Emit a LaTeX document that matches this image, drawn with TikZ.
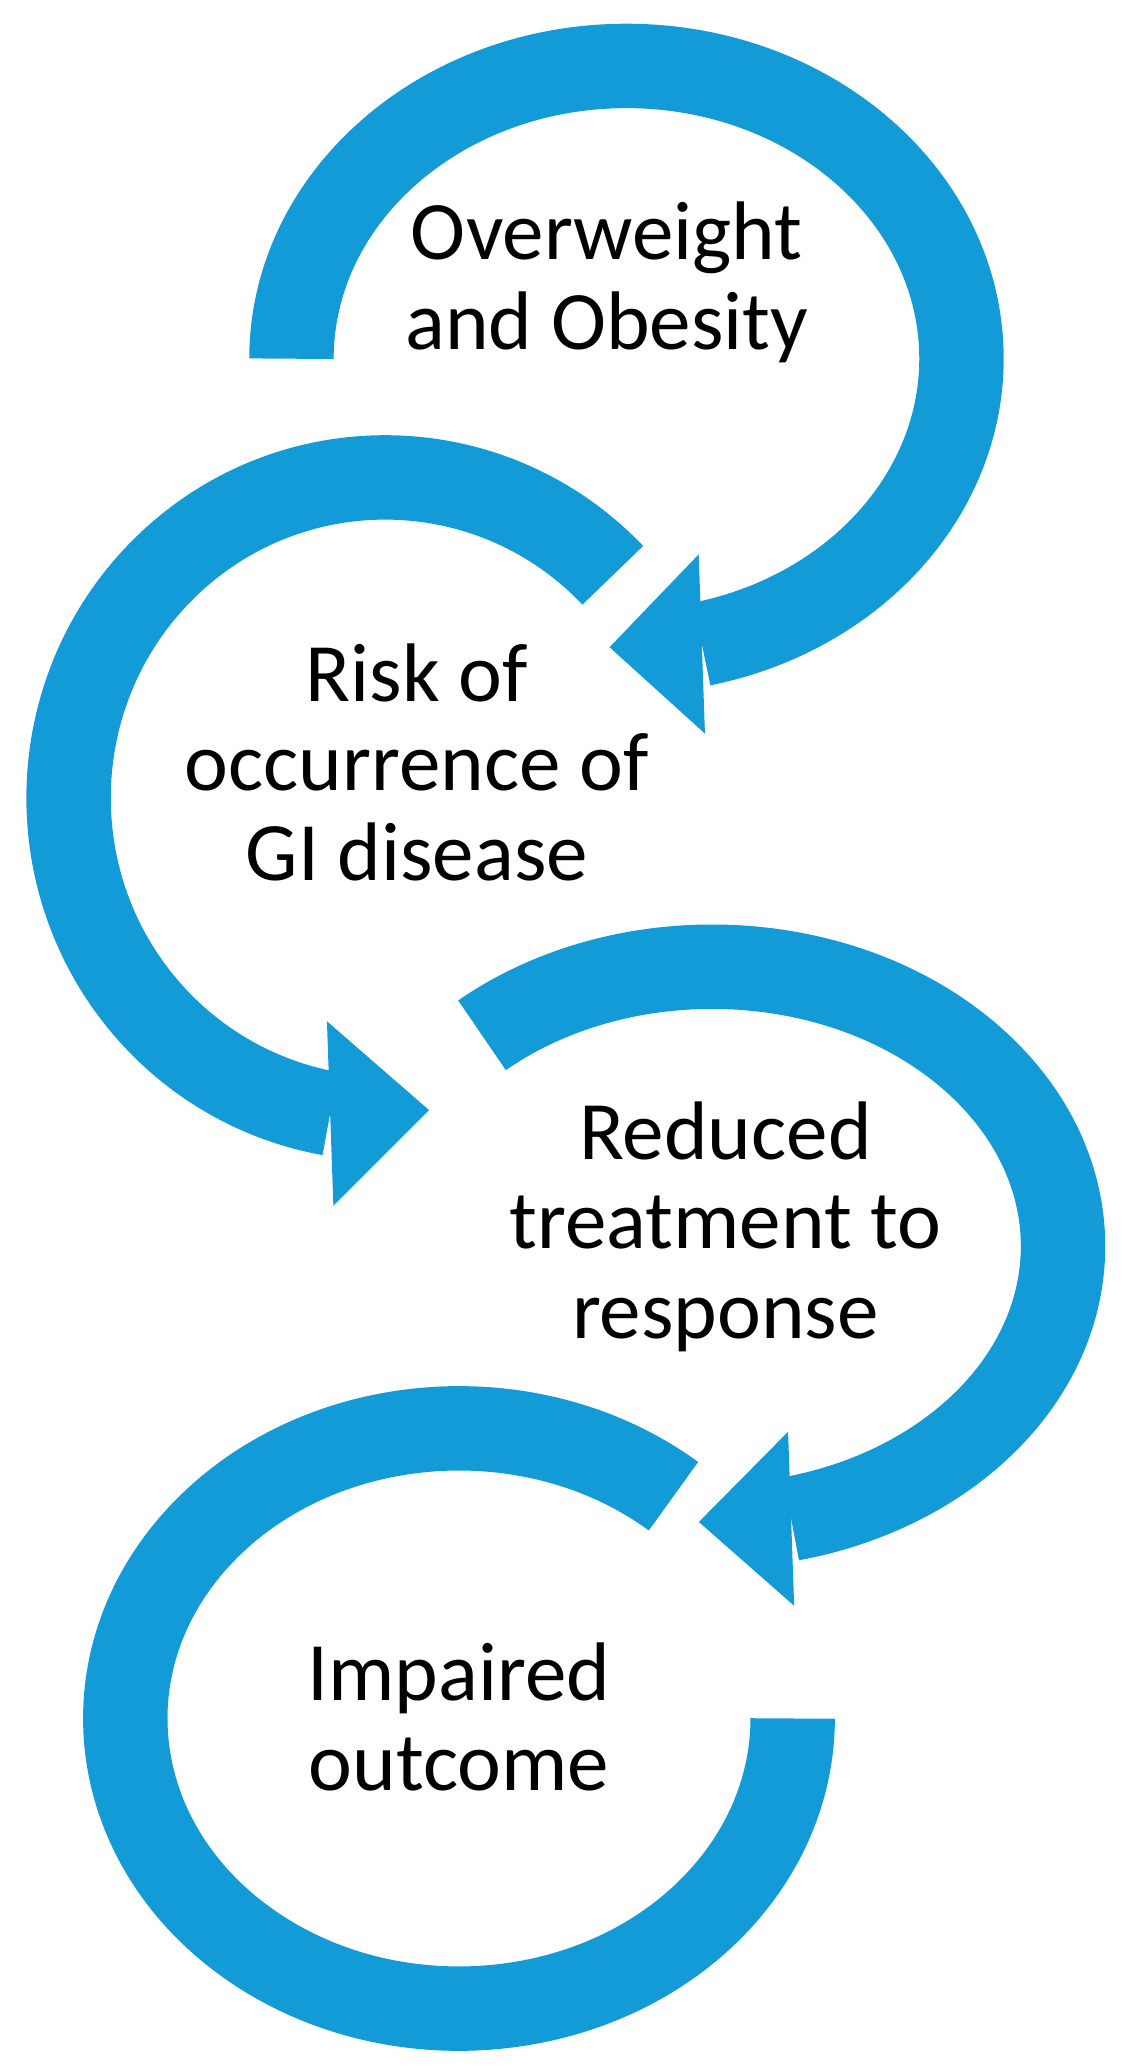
\documentclass[tikz,border=0pt]{standalone}
\usepackage{fontspec}
\setmainfont{Carlito}
\definecolor{cblue}{HTML}{129BD7}
\begin{document}
\begin{tikzpicture}[x=1pt,y=1pt,
  band/.style={draw=cblue,line width=64pt,line cap=butt},
  head/.style={fill=cblue},
  lbl/.style={align=center,font=\fontsize{63}{68}\selectfont,inner sep=0pt}]
\useasboundingbox (0,0) rectangle (850,1568);
% arrow 1
\draw[band] (475,1296) ++(180:254 and 222) arc[start angle=180,end angle=-77,x radius=254,y radius=222] coordinate (e1);
\fill[head,shift={(e1)},rotate=182] (0,68) -- (70,0) -- (0,-68) -- cycle;
% arrow 2
\draw[band] (292,963) ++(44:240 and 243) arc[start angle=44,end angle=260,x radius=240,y radius=243] coordinate (e2);
\fill[head,shift={(e2)},rotate=2] (0,70) -- (75,0) -- (0,-70) -- cycle;
% arrow 3
\draw[band] (540,623) ++(131:266 and 212) arc[start angle=131,end angle=-77,x radius=266,y radius=212] coordinate (e3);
\fill[head,shift={(e3)},rotate=182] (0,66) -- (70,0) -- (0,-66) -- cycle;
% arrow 4
\draw[band] (348,265) ++(50:253 and 220) arc[start angle=50,end angle=360,x radius=253,y radius=220] coordinate (e4);
\node[lbl] (t1) at (460,1354) {Overweight\\and Obesity};
\node[lbl] (t2) at (316,990) {Risk of\\occurrence of\\GI disease};
\node[lbl] (t3) at (550,638) {Reduced\\treatment to\\response};
\node[lbl] (t4) at (348,266) {Impaired\\outcome};
\end{tikzpicture}
\end{document}
